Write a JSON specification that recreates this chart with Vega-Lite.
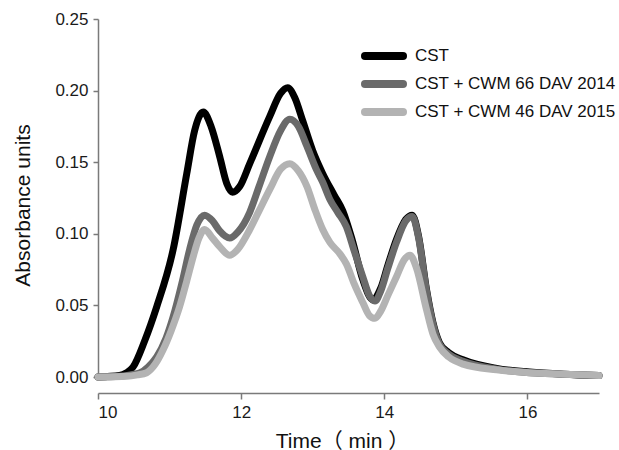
{
  "$schema": "https://vega.github.io/schema/vega-lite/v6.json",
  "autosize": {"type": "none"},
  "padding": {"left": 98, "top": 19, "right": 20, "bottom": 73},
  "width": 501,
  "height": 358,
  "background": "white",
  "config": {
    "view": {"stroke": null},
    "font": "Liberation Sans, Noto Sans CJK SC",
    "axis": {"grid": false, "domainColor": "#7a7a7a", "tickColor": "#7a7a7a", "domainWidth": 1.5, "tickWidth": 1.5, "labelColor": "#1a1a1a", "titleColor": "#111111", "labelFont": "Liberation Sans", "labelFontSize": 17, "titleFontWeight": "normal", "titleFontSize": 21}
  },
  "data": {"values": [
    {"t": 10.0, "v": 0, "s": "CST"},
    {"t": 10.3, "v": 0.001, "s": "CST"},
    {"t": 10.4, "v": 0.003, "s": "CST"},
    {"t": 10.49, "v": 0.007, "s": "CST"},
    {"t": 10.65, "v": 0.025, "s": "CST"},
    {"t": 10.82, "v": 0.049, "s": "CST"},
    {"t": 11.05, "v": 0.089, "s": "CST"},
    {"t": 11.24, "v": 0.142, "s": "CST"},
    {"t": 11.35, "v": 0.172, "s": "CST"},
    {"t": 11.47, "v": 0.185, "s": "CST"},
    {"t": 11.58, "v": 0.175, "s": "CST"},
    {"t": 11.7, "v": 0.154, "s": "CST"},
    {"t": 11.8, "v": 0.135, "s": "CST"},
    {"t": 11.88, "v": 0.129, "s": "CST"},
    {"t": 11.98, "v": 0.133, "s": "CST"},
    {"t": 12.12, "v": 0.149, "s": "CST"},
    {"t": 12.4, "v": 0.182, "s": "CST"},
    {"t": 12.55, "v": 0.198, "s": "CST"},
    {"t": 12.65, "v": 0.202, "s": "CST"},
    {"t": 12.75, "v": 0.195, "s": "CST"},
    {"t": 12.86, "v": 0.179, "s": "CST"},
    {"t": 13.0, "v": 0.158, "s": "CST"},
    {"t": 13.14, "v": 0.142, "s": "CST"},
    {"t": 13.3, "v": 0.127, "s": "CST"},
    {"t": 13.42, "v": 0.116, "s": "CST"},
    {"t": 13.55, "v": 0.096, "s": "CST"},
    {"t": 13.7, "v": 0.068, "s": "CST"},
    {"t": 13.84, "v": 0.054, "s": "CST"},
    {"t": 13.95, "v": 0.062, "s": "CST"},
    {"t": 14.05, "v": 0.078, "s": "CST"},
    {"t": 14.17, "v": 0.096, "s": "CST"},
    {"t": 14.3, "v": 0.11, "s": "CST"},
    {"t": 14.39, "v": 0.113, "s": "CST"},
    {"t": 14.48, "v": 0.098, "s": "CST"},
    {"t": 14.59, "v": 0.061, "s": "CST"},
    {"t": 14.68, "v": 0.038, "s": "CST"},
    {"t": 14.77, "v": 0.024, "s": "CST"},
    {"t": 14.9, "v": 0.017, "s": "CST"},
    {"t": 15.1, "v": 0.012, "s": "CST"},
    {"t": 15.57, "v": 0.006, "s": "CST"},
    {"t": 16.03, "v": 0.0035, "s": "CST"},
    {"t": 16.5, "v": 0.002, "s": "CST"},
    {"t": 17.0, "v": 0.001, "s": "CST"},

    {"t": 10.0, "v": 0, "s": "CST + CWM 66 DAV 2014"},
    {"t": 10.3, "v": 0.0005, "s": "CST + CWM 66 DAV 2014"},
    {"t": 10.45, "v": 0.0015, "s": "CST + CWM 66 DAV 2014"},
    {"t": 10.59, "v": 0.003, "s": "CST + CWM 66 DAV 2014"},
    {"t": 10.7, "v": 0.007, "s": "CST + CWM 66 DAV 2014"},
    {"t": 10.82, "v": 0.014, "s": "CST + CWM 66 DAV 2014"},
    {"t": 10.95, "v": 0.027, "s": "CST + CWM 66 DAV 2014"},
    {"t": 11.05, "v": 0.042, "s": "CST + CWM 66 DAV 2014"},
    {"t": 11.17, "v": 0.065, "s": "CST + CWM 66 DAV 2014"},
    {"t": 11.28, "v": 0.089, "s": "CST + CWM 66 DAV 2014"},
    {"t": 11.38, "v": 0.106, "s": "CST + CWM 66 DAV 2014"},
    {"t": 11.49, "v": 0.113, "s": "CST + CWM 66 DAV 2014"},
    {"t": 11.6, "v": 0.109, "s": "CST + CWM 66 DAV 2014"},
    {"t": 11.7, "v": 0.102, "s": "CST + CWM 66 DAV 2014"},
    {"t": 11.84, "v": 0.097, "s": "CST + CWM 66 DAV 2014"},
    {"t": 11.95, "v": 0.101, "s": "CST + CWM 66 DAV 2014"},
    {"t": 12.12, "v": 0.115, "s": "CST + CWM 66 DAV 2014"},
    {"t": 12.25, "v": 0.133, "s": "CST + CWM 66 DAV 2014"},
    {"t": 12.4, "v": 0.154, "s": "CST + CWM 66 DAV 2014"},
    {"t": 12.55, "v": 0.172, "s": "CST + CWM 66 DAV 2014"},
    {"t": 12.68, "v": 0.18, "s": "CST + CWM 66 DAV 2014"},
    {"t": 12.8, "v": 0.175, "s": "CST + CWM 66 DAV 2014"},
    {"t": 12.92, "v": 0.161, "s": "CST + CWM 66 DAV 2014"},
    {"t": 13.05, "v": 0.145, "s": "CST + CWM 66 DAV 2014"},
    {"t": 13.14, "v": 0.136, "s": "CST + CWM 66 DAV 2014"},
    {"t": 13.24, "v": 0.124, "s": "CST + CWM 66 DAV 2014"},
    {"t": 13.35, "v": 0.115, "s": "CST + CWM 66 DAV 2014"},
    {"t": 13.47, "v": 0.105, "s": "CST + CWM 66 DAV 2014"},
    {"t": 13.58, "v": 0.088, "s": "CST + CWM 66 DAV 2014"},
    {"t": 13.7, "v": 0.07, "s": "CST + CWM 66 DAV 2014"},
    {"t": 13.79, "v": 0.057, "s": "CST + CWM 66 DAV 2014"},
    {"t": 13.87, "v": 0.053, "s": "CST + CWM 66 DAV 2014"},
    {"t": 13.95, "v": 0.06, "s": "CST + CWM 66 DAV 2014"},
    {"t": 14.05, "v": 0.076, "s": "CST + CWM 66 DAV 2014"},
    {"t": 14.17, "v": 0.094, "s": "CST + CWM 66 DAV 2014"},
    {"t": 14.3, "v": 0.109, "s": "CST + CWM 66 DAV 2014"},
    {"t": 14.39, "v": 0.112, "s": "CST + CWM 66 DAV 2014"},
    {"t": 14.48, "v": 0.097, "s": "CST + CWM 66 DAV 2014"},
    {"t": 14.59, "v": 0.06, "s": "CST + CWM 66 DAV 2014"},
    {"t": 14.68, "v": 0.037, "s": "CST + CWM 66 DAV 2014"},
    {"t": 14.77, "v": 0.023, "s": "CST + CWM 66 DAV 2014"},
    {"t": 14.9, "v": 0.016, "s": "CST + CWM 66 DAV 2014"},
    {"t": 15.1, "v": 0.011, "s": "CST + CWM 66 DAV 2014"},
    {"t": 15.57, "v": 0.0055, "s": "CST + CWM 66 DAV 2014"},
    {"t": 16.03, "v": 0.003, "s": "CST + CWM 66 DAV 2014"},
    {"t": 16.5, "v": 0.002, "s": "CST + CWM 66 DAV 2014"},
    {"t": 17.0, "v": 0.001, "s": "CST + CWM 66 DAV 2014"},

    {"t": 10.0, "v": 0, "s": "CST + CWM 46 DAV 2015"},
    {"t": 10.4, "v": 0.0005, "s": "CST + CWM 46 DAV 2015"},
    {"t": 10.55, "v": 0.0015, "s": "CST + CWM 46 DAV 2015"},
    {"t": 10.68, "v": 0.003, "s": "CST + CWM 46 DAV 2015"},
    {"t": 10.8, "v": 0.009, "s": "CST + CWM 46 DAV 2015"},
    {"t": 10.91, "v": 0.019, "s": "CST + CWM 46 DAV 2015"},
    {"t": 11.02, "v": 0.032, "s": "CST + CWM 46 DAV 2015"},
    {"t": 11.14, "v": 0.049, "s": "CST + CWM 46 DAV 2015"},
    {"t": 11.24, "v": 0.067, "s": "CST + CWM 46 DAV 2015"},
    {"t": 11.33, "v": 0.084, "s": "CST + CWM 46 DAV 2015"},
    {"t": 11.41, "v": 0.097, "s": "CST + CWM 46 DAV 2015"},
    {"t": 11.49, "v": 0.103, "s": "CST + CWM 46 DAV 2015"},
    {"t": 11.6, "v": 0.097, "s": "CST + CWM 46 DAV 2015"},
    {"t": 11.7, "v": 0.091, "s": "CST + CWM 46 DAV 2015"},
    {"t": 11.84, "v": 0.085, "s": "CST + CWM 46 DAV 2015"},
    {"t": 11.95, "v": 0.089, "s": "CST + CWM 46 DAV 2015"},
    {"t": 12.12, "v": 0.103, "s": "CST + CWM 46 DAV 2015"},
    {"t": 12.25, "v": 0.116, "s": "CST + CWM 46 DAV 2015"},
    {"t": 12.4, "v": 0.131, "s": "CST + CWM 46 DAV 2015"},
    {"t": 12.55, "v": 0.145, "s": "CST + CWM 46 DAV 2015"},
    {"t": 12.68, "v": 0.149, "s": "CST + CWM 46 DAV 2015"},
    {"t": 12.8, "v": 0.144, "s": "CST + CWM 46 DAV 2015"},
    {"t": 12.92, "v": 0.133, "s": "CST + CWM 46 DAV 2015"},
    {"t": 13.03, "v": 0.117, "s": "CST + CWM 46 DAV 2015"},
    {"t": 13.14, "v": 0.103, "s": "CST + CWM 46 DAV 2015"},
    {"t": 13.24, "v": 0.094, "s": "CST + CWM 46 DAV 2015"},
    {"t": 13.38, "v": 0.086, "s": "CST + CWM 46 DAV 2015"},
    {"t": 13.47, "v": 0.079, "s": "CST + CWM 46 DAV 2015"},
    {"t": 13.58, "v": 0.065, "s": "CST + CWM 46 DAV 2015"},
    {"t": 13.7, "v": 0.052, "s": "CST + CWM 46 DAV 2015"},
    {"t": 13.79, "v": 0.043, "s": "CST + CWM 46 DAV 2015"},
    {"t": 13.87, "v": 0.041, "s": "CST + CWM 46 DAV 2015"},
    {"t": 13.95, "v": 0.046, "s": "CST + CWM 46 DAV 2015"},
    {"t": 14.05, "v": 0.057, "s": "CST + CWM 46 DAV 2015"},
    {"t": 14.17, "v": 0.07, "s": "CST + CWM 46 DAV 2015"},
    {"t": 14.28, "v": 0.082, "s": "CST + CWM 46 DAV 2015"},
    {"t": 14.36, "v": 0.085, "s": "CST + CWM 46 DAV 2015"},
    {"t": 14.45, "v": 0.076, "s": "CST + CWM 46 DAV 2015"},
    {"t": 14.59, "v": 0.047, "s": "CST + CWM 46 DAV 2015"},
    {"t": 14.68, "v": 0.03, "s": "CST + CWM 46 DAV 2015"},
    {"t": 14.77, "v": 0.021, "s": "CST + CWM 46 DAV 2015"},
    {"t": 14.9, "v": 0.014, "s": "CST + CWM 46 DAV 2015"},
    {"t": 15.1, "v": 0.009, "s": "CST + CWM 46 DAV 2015"},
    {"t": 15.57, "v": 0.005, "s": "CST + CWM 46 DAV 2015"},
    {"t": 16.03, "v": 0.003, "s": "CST + CWM 46 DAV 2015"},
    {"t": 16.5, "v": 0.002, "s": "CST + CWM 46 DAV 2015"},
    {"t": 17.0, "v": 0.001, "s": "CST + CWM 46 DAV 2015"}
  ]},
  "mark": {"type": "line", "strokeWidth": 7, "strokeCap": "round", "strokeJoin": "round", "interpolate": "monotone"},
  "encoding": {
    "x": {"field": "t", "type": "quantitative", "scale": {"domain": [10, 17], "nice": false},
      "axis": {"values": [10, 12, 14, 16], "format": "d", "offset": 16, "tickSize": 6, "labelPadding": 5, "title": "Time（ min ）", "titleX": 244, "titleY": 54, "titleBaseline": "alphabetic", "titleAnchor": "middle", "titleFontSize": 21}},
    "y": {"field": "v", "type": "quantitative", "scale": {"domain": [0, 0.25], "nice": false},
      "axis": {"values": [0, 0.05, 0.1, 0.15, 0.2, 0.25], "format": ".2f", "tickSize": 5, "labelPadding": 5, "title": "Absorbance units", "titleX": -75, "titleY": 186, "titleAngle": -90, "titleBaseline": "middle", "titleAnchor": "middle"}},
    "color": {"field": "s", "type": "nominal",
      "scale": {"domain": ["CST", "CST + CWM 66 DAV 2014", "CST + CWM 46 DAV 2015"], "range": ["#000000", "#6a6a6a", "#b3b3b3"]},
      "legend": {"title": null, "orient": "none", "legendX": 263, "legendY": 23, "padding": 0, "symbolType": "stroke", "symbolSize": 1444, "symbolStrokeWidth": 8, "clipHeight": 28, "rowPadding": 0, "labelFontSize": 17, "labelColor": "#111111", "labelOffset": 8, "labelFont": "Liberation Sans", "labelLimit": 300,
        "encode": {"symbols": {"update": {"strokeCap": {"value": "round"}}}}}},
    "order": {"field": "t", "type": "quantitative"}
  }
}
